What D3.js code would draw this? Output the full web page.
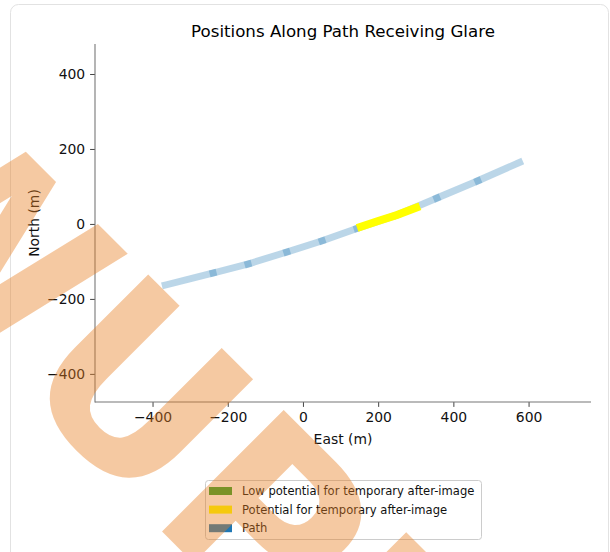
<!DOCTYPE html>
<html><head><meta charset="utf-8">
<script src="https://cdn.jsdelivr.net/npm/d3@7"></script>
<style>body{margin:0;background:#fff}svg{display:block}text{font-family:"DejaVu Sans",sans-serif}</style>
</head><body>
<svg id="c" width="610" height="552"></svg>
<script>
// ---- data ----
const pathEast  = [-366, -239, -146, -43, 51, 144, 250, 356, 465, 576];
const pathNorth = [-163, -131, -107, -75, -45, -12, 24, 69, 115, 164];
const glareEast  = [144, 200, 250, 311];
const glareNorth = [-11, 8, 24, 47];
const xTicks = [-400, -200, 0, 200, 400, 600];
const yTicks = [-400, -200, 0, 200, 400];
const legendLabels = ["Low potential for temporary after-image", "Potential for temporary after-image", "Path"];
const legendColors = ["#2ca02c", "#ffff00", "#1f77b4"];
const titleText = "Positions Along Path Receiving Glare";
const xLabel = "East (m)";
const yLabel = "North (m)";
const watermarkText = "WUPD";

const svg = d3.select("#c");
const L = 95, R = 591, T = 44, B = 402;
const x = d3.scaleLinear().domain([-553, 766]).range([L, R]);
const y = d3.scaleLinear().domain([-475, 480]).range([B, T]);

// card
svg.append("rect").attr("x", 10.5).attr("y", 4.5).attr("width", 598).attr("height", 620)
  .attr("rx", 8).attr("fill", "#fff").attr("stroke", "#e2e2e2");

// title
svg.append("text").attr("x", (L + R) / 2).attr("y", 37).attr("text-anchor", "middle")
  .attr("font-size", 16.67).attr("fill", "#000").text(titleText);

// axes
const gx = svg.append("g").attr("transform", `translate(0,${B})`)
  .call(d3.axisBottom(x).tickValues(xTicks).tickSize(4.9).tickPadding(4.9).tickSizeOuter(0));
const gy = svg.append("g").attr("transform", `translate(${L},0)`)
  .call(d3.axisLeft(y).tickValues(yTicks).tickSize(4.9).tickPadding(4.9).tickSizeOuter(0));
[gx, gy].forEach(g => {
  g.select(".domain").remove();
  g.selectAll(".tick line").attr("stroke", "#444").attr("stroke-width", 1);
  g.selectAll(".tick text").attr("font-size", 13.9).attr("font-family", "DejaVu Sans").attr("fill", "#111");
});
svg.append("line").attr("x1", L).attr("x2", L).attr("y1", T).attr("y2", B + 0.5)
  .attr("stroke", "#777").attr("stroke-width", 1.1);
svg.append("line").attr("x1", L).attr("x2", R).attr("y1", B).attr("y2", B)
  .attr("stroke", "#777").attr("stroke-width", 1.1);

svg.append("text").attr("x", (L + R) / 2).attr("y", 444).attr("text-anchor", "middle")
  .attr("font-size", 13.9).attr("fill", "#111").text(xLabel);
svg.append("text").attr("transform", `translate(39,${(T + B) / 2}) rotate(-90)`).attr("text-anchor", "middle")
  .attr("font-size", 13.9).attr("fill", "#111").text(yLabel);

// path segments (alpha overlaps show at joints)
const pts = pathEast.map((e, i) => [e, pathNorth[i]]);
const pathG = svg.append("g");
for (let i = 0; i < pts.length - 1; i++) {
  pathG.append("line")
    .attr("x1", x(pts[i][0])).attr("y1", y(pts[i][1]))
    .attr("x2", x(pts[i + 1][0])).attr("y2", y(pts[i + 1][1]))
    .attr("stroke", "#1f77b4").attr("stroke-opacity", 0.3)
    .attr("stroke-width", 7).attr("stroke-linecap", "square");
}
// glare segment
const gl = glareEast.map((e, i) => [e, glareNorth[i]]);
svg.append("path").attr("d", d3.line().x(d => x(d[0])).y(d => y(d[1]))(gl))
  .attr("fill", "none").attr("stroke", "#ffff00").attr("stroke-width", 8).attr("stroke-linecap", "butt");

// legend
const lg = svg.append("g");
lg.append("rect").attr("x", 205.5).attr("y", 480.5).attr("width", 276).attr("height", 59).attr("rx", 3)
  .attr("fill", "#fff").attr("fill-opacity", 0.8).attr("stroke", "#cccccc");
legendLabels.forEach((lab, i) => {
  const cy = 491 + i * 18.6;
  lg.append("rect").attr("x", 209).attr("y", cy - 4).attr("width", 23).attr("height", 8).attr("fill", legendColors[i]);
  lg.append("text").attr("x", 242).attr("y", cy + 4.2).attr("font-size", 11.57).attr("fill", "#111").text(lab);
});

// watermark on top
const fs = 236;
const wm = svg.append("g");
const wt = wm.append("text").attr("x", 0).attr("y", 0).attr("font-size", fs).attr("font-weight", "bold")
  .attr("fill", "rgb(230,126,34)").attr("fill-opacity", 0.42).text(watermarkText);
const uIdx = watermarkText.indexOf("U");
let offU = 0;
try { offU = uIdx > 0 ? wt.node().getSubStringLength(0, uIdx) : 0; } catch (e) { offU = 0; }
const c = Math.SQRT1_2;
const lu = offU + 0.078 * fs, lv = -0.729 * fs;
const tx = 146 - (lu * c - lv * c), ty = 272 - (lu * c + lv * c);
wm.attr("transform", `translate(${tx},${ty}) rotate(45)`);
</script>
</body></html>
